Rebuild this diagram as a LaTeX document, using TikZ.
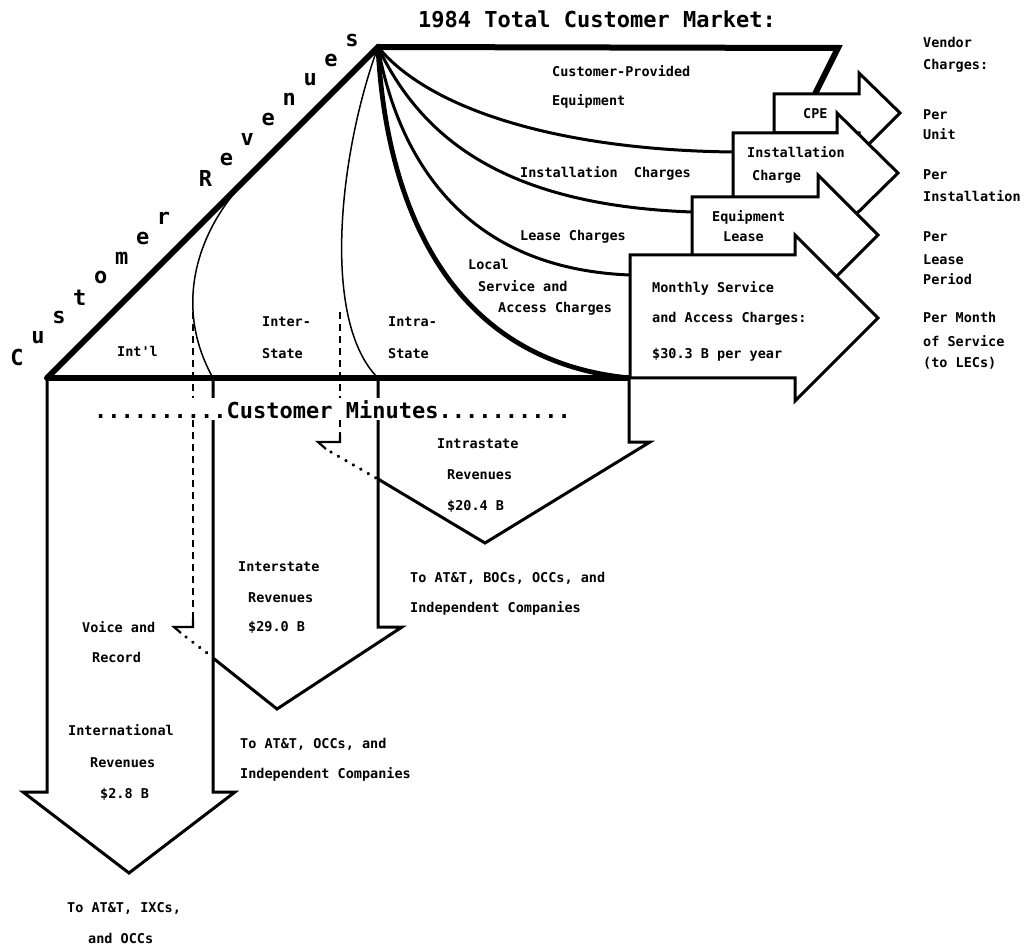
\documentclass[tikz,border=0pt]{standalone}
\usepackage{fontspec}
\newfontfamily\dmono{DejaVu Sans Mono}
\begin{document}
\begin{tikzpicture}[x=1pt,y=-1pt,
  big/.style={font=\dmono\bfseries\fontsize{22}{26}\selectfont, inner sep=0pt},
  lbl/.style={font=\dmono\bfseries\fontsize{13.5}{16}\selectfont, inner sep=0pt, anchor=base west},
  heavy/.style={line width=6pt, line cap=round, line join=miter},
  flow/.style={line width=3pt},
  flowheavy/.style={line width=4.8pt},
  split/.style={line width=1.5pt},
  outline/.style={line width=3pt, line join=miter},
  boxarrow/.style={outline, fill=white},
  hidden/.style={line width=2pt, dash pattern=on 7pt off 5pt},
  hook/.style={line width=2.2pt, line join=miter},
  hiddot/.style={line width=3.6pt, dash pattern=on 0.1pt off 8.5pt, line cap=round}]
\useasboundingbox (0,0) rectangle (1028,949);

% key points of the revenue triangle
\coordinate (apex) at (378,47);
\coordinate (corner) at (47,378);
\coordinate (baseend) at (630,378);

% flows of revenue fanning out of the apex
\draw[flow] (apex) .. controls (430,110) and (560,150) .. (733,152);
\draw[flow] (apex) .. controls (420,135) and (500,205) .. (692,212);
\draw[flow] (apex) .. controls (395,140) and (450,268) .. (630,275);
\draw[flowheavy] (apex) .. controls (385,190) and (440,360) .. (baseend);
\draw[split] (236,191) .. controls (195,240) and (175,310) .. (213,378);
\draw[split] (apex) .. controls (340,150) and (320,320) .. (378,378);

% triangle and market outline
\draw[heavy] (corner) -- (apex) -- (838,48) -- (815,94);
\draw[heavy, line cap=butt] (corner) -- (baseend);

% vendor charge arrows (back to front)
\draw[boxarrow] (774,94) -- (859,94) -- (859,73) -- (900,113) -- (859,154) -- (859,133) -- (774,133) -- cycle;
\draw[boxarrow] (733,133) -- (837,133) -- (837,113) -- (898,173) -- (837,233) -- (837,213) -- (733,213) -- cycle;
\draw[boxarrow] (692,197) -- (818,197) -- (818,175) -- (878,235) -- (818,295) -- (818,273) -- (692,273) -- cycle;
\draw[boxarrow] (630,255) -- (795,255) -- (795,235) -- (878,318) -- (795,401) -- (795,378) -- (630,378) -- cycle;

% intrastate revenue arrow
\draw[outline] (629,378) -- (629,442) -- (650,442) -- (485,543) -- (378,479);
\draw[hidden] (340,312) -- (340,436);
\draw[hook] (340,434) -- (340,442) -- (318,442) -- (326,449);
\draw[hiddot] (331,452) -- (376,478);

% interstate revenue arrow
\draw[outline] (378,378) -- (378,627) -- (402,627) -- (277,709) -- (213,658);
\draw[hidden] (193,312) -- (193,621);
\draw[hook] (193,619) -- (193,627) -- (174,627) -- (181,633);
\draw[hiddot] (186,637) -- (211,656);

% international revenue arrow
\draw[outline] (corner) -- (47,792) -- (23,792) -- (129,873) -- (235,792) -- (213,792) -- (213,378);

% headings
\node[big, anchor=base west] (title) at (418,28) {1984 Total Customer Market:};
\node[big, anchor=base west, fill=white, inner xsep=0pt, inner ysep=2pt] (minutes) at (94,418) {..........Customer Minutes..........};
\foreach \ch/\k in {C/0,u/1,s/2,t/3,o/4,m/5,e/6,r/7,R/9,e/10,v/11,e/12,n/13,u/14,e/15,s/16}
  \node[big] (rev\k) at ({17+20.94*\k},{357-19.8*\k}) {\ch};

% revenue segments
\node[lbl] (cpe1) at (552,77) {Customer-Provided};
\node[lbl] (cpe2) at (552,106) {Equipment};
\node[lbl] (inst) at (520,178) {Installation\ \ Charges};
\node[lbl] (lease) at (520,241) {Lease Charges};
\node[lbl] (loc1) at (468,270) {Local};
\node[lbl] (loc2) at (478,292) {Service and};
\node[lbl] (loc3) at (498,313) {Access Charges};
\node[lbl] (intl) at (117,357) {Int'l};
\node[lbl] (inter1) at (262,327) {Inter-};
\node[lbl] (inter2) at (262,359) {State};
\node[lbl] (intra1) at (388,327) {Intra-};
\node[lbl] (intra2) at (388,359) {State};

% arrow labels
\node[lbl] (mon1) at (652,293) {Monthly Service};
\node[lbl] (mon2) at (652,323) {and Access Charges:};
\node[lbl] (mon3) at (652,359) {\$30.3 B per year};
\node[lbl] (cpe) at (803,119) {CPE};
\node[lbl] (ic1) at (747,158) {Installation};
\node[lbl] (ic2) at (752,181) {Charge};
\node[lbl] (el1) at (712,222) {Equipment};
\node[lbl] (el2) at (723,242) {Lease};

% vendor charge basis
\node[lbl] (v1) at (923,48) {Vendor};
\node[lbl] (v2) at (923,70) {Charges:};
\node[lbl] (pu1) at (923,120) {Per};
\node[lbl] (pu2) at (923,140) {Unit};
\node[lbl] (pi1) at (923,180) {Per};
\node[lbl] (pi2) at (923,202) {Installation};
\node[lbl] (pl1) at (923,242) {Per};
\node[lbl] (pl2) at (923,265) {Lease};
\node[lbl] (pl3) at (923,285) {Period};
\node[lbl] (pm1) at (923,323) {Per Month};
\node[lbl] (pm2) at (923,347) {of Service};
\node[lbl] (pm3) at (923,368) {(to LECs)};

% revenue destinations
\node[lbl] (ra1) at (437,448) {Intrastate};
\node[lbl] (ra2) at (447,479) {Revenues};
\node[lbl] (ra3) at (447,510) {\$20.4 B};
\node[lbl] (ra4) at (410,582) {To AT\&T, BOCs, OCCs, and};
\node[lbl] (ra5) at (410,612) {Independent Companies};
\node[lbl] (re1) at (238,571) {Interstate};
\node[lbl] (re2) at (248,602) {Revenues};
\node[lbl] (re3) at (248,631) {\$29.0 B};
\node[lbl] (re4) at (240,748) {To AT\&T, OCCs, and};
\node[lbl] (re5) at (240,778) {Independent Companies};
\node[lbl] (vr1) at (82,632) {Voice and};
\node[lbl] (vr2) at (92,662) {Record};
\node[lbl] (in1) at (68,735) {International};
\node[lbl] (in2) at (90,767) {Revenues};
\node[lbl] (in3) at (100,798) {\$2.8 B};
\node[lbl] (in4) at (67,912) {To AT\&T, IXCs,};
\node[lbl] (in5) at (88,943) {and OCCs};
\end{tikzpicture}
\end{document}
